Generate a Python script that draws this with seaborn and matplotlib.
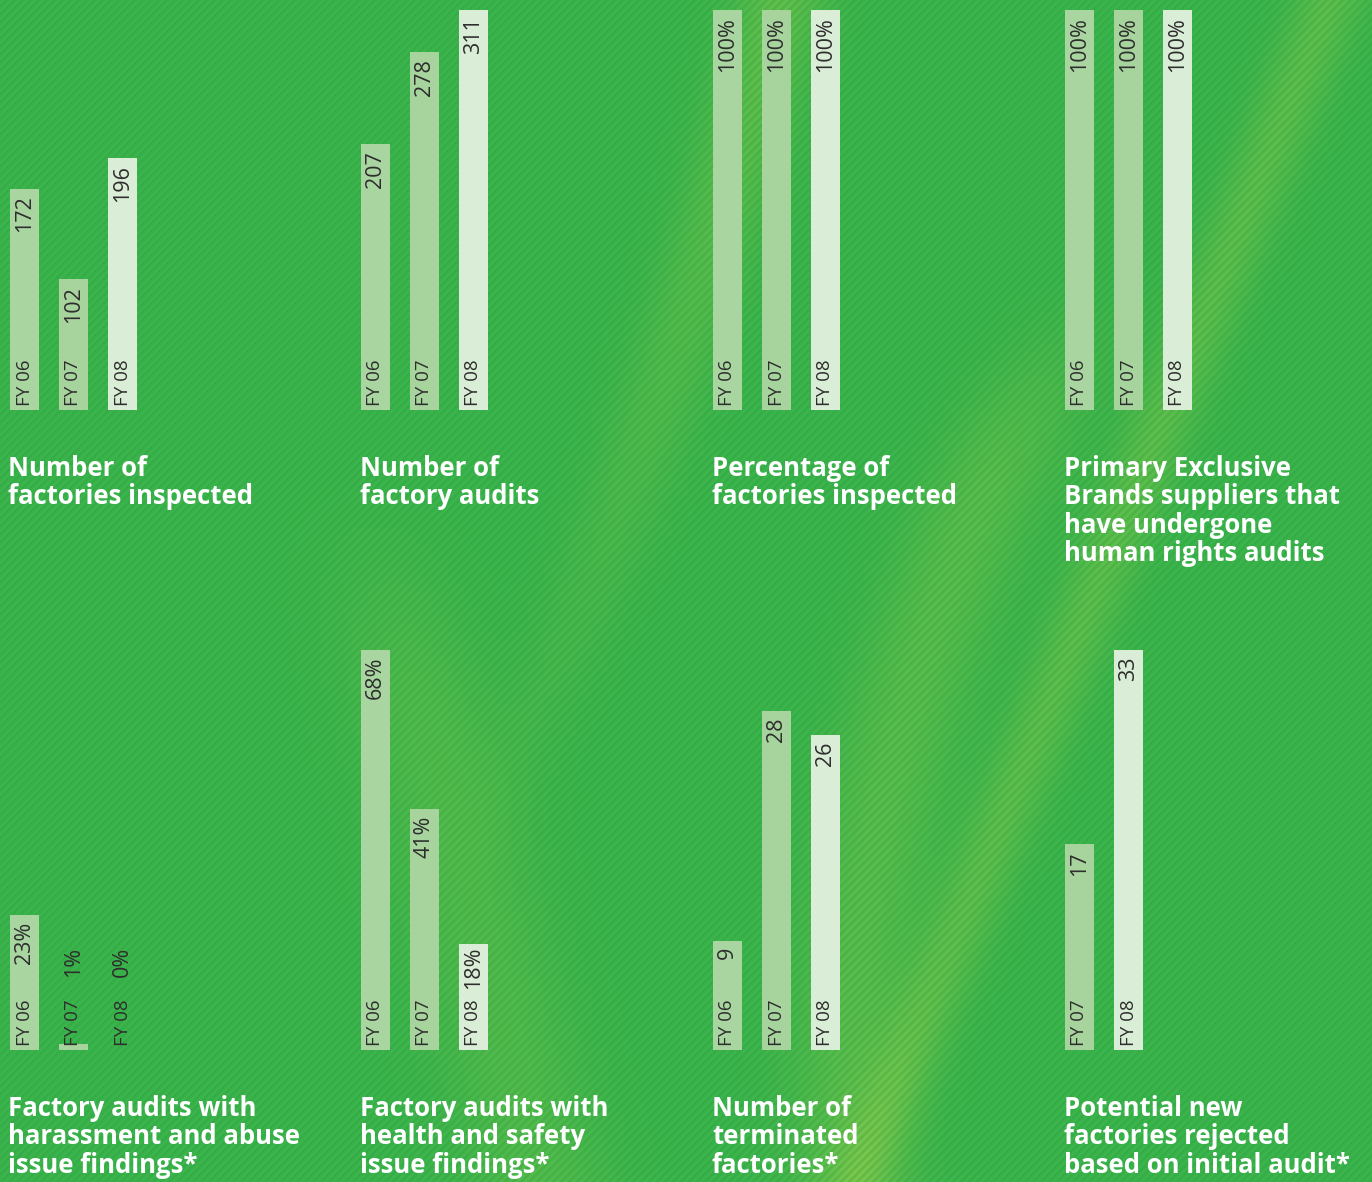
import numpy as np
import pandas as pd
import seaborn as sns
import matplotlib.pyplot as plt

# ---------------- data ----------------
years3 = ['FY 06', 'FY 07', 'FY 08']
years2 = ['FY 07', 'FY 08']
factories_inspected = [172, 102, 196]
factory_audits = [207, 278, 311]
pct_factories_inspected = [100, 100, 100]
pct_primary_audited = [100, 100, 100]
harassment_findings = [23, 1, 0]
health_safety_findings = [68, 41, 18]
terminated_factories = [9, 28, 26]
rejected_factories = [17, 33]

titles = [
    "Number of\nfactories inspected",
    "Number of\nfactory audits",
    "Percentage of\nfactories inspected",
    "Primary Exclusive\nBrands suppliers that\nhave undergone\nhuman rights audits",
    "Factory audits with\nharassment and abuse\nissue findings*",
    "Factory audits with\nhealth and safety\nissue findings*",
    "Number of\nterminated\nfactories*",
    "Potential new\nfactories rejected\nbased on initial audit*",
]

bar_colors = {'FY 06': '#a9d5a0', 'FY 07': '#a7d39d', 'FY 08': '#daedd6'}

# ---------------- figure ----------------
W, H = 1372, 1182
fig = plt.figure(figsize=(W / 100, H / 100), dpi=100)

# background: green with diagonal pinstripes and soft light swooshes
yy, xx = np.mgrid[0:H, 0:W].astype(float)
base = np.array([57, 177, 74], dtype=float)
light = np.array([122, 196, 74], dtype=float)
stripes = np.sin(2 * np.pi * (xx + yy) / 8.0)


def smooth_step(v, a, b):
    t = np.clip((v - a) / (b - a), 0, 1)
    return t * t * (3 - 2 * t)


w = np.zeros((H, W))
c1 = 800 - 0.35 * yy - 0.00012 * (yy - 400) ** 2
w += 0.5 * np.exp(-((xx - c1) / 45) ** 2) * np.clip(1 - yy / 900, 0, 1)
c2 = 1000 + 0.00035 * (yy - 900) ** 2 - 0.15 * yy
w += 0.4 * np.exp(-((xx - c2) / 60) ** 2) * smooth_step(yy, 250, 500)
c3 = 1330 - 0.4 * yy
w += 0.45 * np.exp(-((xx - c3) / 35) ** 2)
c4 = 420 + 0.25 * (yy - 700)
w += 0.3 * np.exp(-((xx - c4) / 70) ** 2) * smooth_step(yy, 450, 750)
w = np.clip(w, 0, 1)
img = base[None, None, :] * (1 - w[..., None]) + light[None, None, :] * w[..., None]
img += (4 + 6 * w[..., None]) * stripes[..., None]
img = np.clip(img, 0, 255) / 255.0
bg = fig.add_axes([0, 0, 1, 1])
bg.imshow(img, aspect='auto', interpolation='bilinear')
bg.set_axis_off()
bg.set_zorder(-10)

label_color = '#2d2d2d'
count_fmt = lambda v: f"{v}"
pct_fmt = lambda v: f"{v}%"

panels = [
    (years3, factories_inspected, count_fmt, 311, 0, 0),
    (years3, factory_audits, count_fmt, 311, 1, 0),
    (years3, pct_factories_inspected, pct_fmt, 100, 2, 0),
    (years3, pct_primary_audited, pct_fmt, 100, 3, 0),
    (years3, harassment_findings, pct_fmt, 68, 0, 1),
    (years3, health_safety_findings, pct_fmt, 68, 1, 1),
    (years3, terminated_factories, count_fmt, 33, 2, 1),
    (years2, rejected_factories, count_fmt, 33, 3, 1),
]

col_left = [0, 351, 703, 1055]
row_base = [410, 1050]
title_x = [8, 360, 712, 1064]
title_top = [455, 1095]
ax_w, ax_h = 147, 400

for (yrs, vals, fmt, ymax, col, row), title in zip(panels, titles):
    left = col_left[col]
    bottom = H - row_base[row]
    ax = fig.add_axes([left / W, bottom / H, ax_w / W, ax_h / H])
    df = pd.DataFrame({'year': yrs, 'value': vals})
    sns.barplot(data=df, x='year', y='value', hue='year', order=yrs,
                palette=bar_colors, legend=False, width=0.59,
                saturation=1, ax=ax, edgecolor='none')
    ax.set_xlim(-0.5, 2.5)
    ax.set_ylim(0, ymax)
    ax.set_axis_off()
    ax.patch.set_alpha(0)
    thresh = ymax * 110 / 400
    for i, (yr, v) in enumerate(zip(yrs, vals)):
        ax.annotate(yr, (i, 0), xytext=(0, 3), textcoords='offset points',
                    rotation=90, ha='center', va='bottom', fontsize=13.5,
                    color=label_color, family='Open Sans')
        ax.annotate(fmt(v), (i, max(v, thresh)), xytext=(0, -5),
                    textcoords='offset points', rotation=90, ha='center',
                    va='top', fontsize=15.5, color=label_color,
                    family='Open Sans')
    fig.text(title_x[col] / W, 1 - title_top[row] / H, title,
             ha='left', va='top', fontsize=18.5, fontweight='bold',
             color='white', family='Open Sans', linespacing=1.07)

fig.savefig('out.png', dpi=100)
